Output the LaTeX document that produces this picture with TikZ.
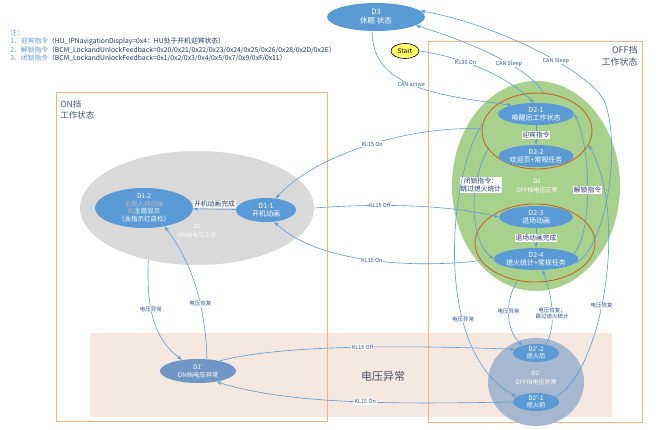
\documentclass[tikz,border=0pt]{standalone}
\usepackage{fontspec}
\setmainfont{Noto Sans CJK SC}[Ligatures=TeXOff]
\usetikzlibrary{shapes.geometric,arrows.meta}

\definecolor{stateb}{RGB}{91,155,213}
\definecolor{lineb}{RGB}{91,155,213}
\definecolor{labc}{RGB}{47,85,151}
\definecolor{darkt}{RGB}{31,56,100}
\definecolor{grayt}{RGB}{68,84,106}
\definecolor{boxo}{RGB}{244,177,131}
\definecolor{bandc}{RGB}{245,232,225}
\definecolor{greenc}{RGB}{169,209,142}
\definecolor{grayc}{RGB}{217,217,217}
\definecolor{brownc}{RGB}{196,100,30}
\definecolor{abnc}{RGB}{166,184,207}
\definecolor{abnb}{RGB}{112,150,196}
\definecolor{fadet}{RGB}{196,180,190}
\definecolor{startc}{RGB}{255,255,102}

\tikzset{every picture/.style={line width=0.75pt}}
\tikzset{
  stat/.style={ellipse, fill=stateb, text=white, inner sep=0pt, align=center,
    font=\fontsize{7}{8.2}\selectfont},
  zone/.style={ellipse, inner sep=0pt},
  conn/.style={draw=lineb, line width=0.6pt, -{Stealth[length=5pt,width=3.6pt]}},
  lab/.style={fill=white, inner sep=0.6pt, text=labc, align=center,
    font=\fontsize{5.5}{6.5}\selectfont},
  cmd/.style={fill=white, inner sep=0.8pt, text=darkt, align=center,
    font=\fontsize{6.8}{8}\selectfont},
  ztxt/.style={text=white, align=center, font=\fontsize{6}{9.5}\selectfont},
}

\begin{document}
\begin{tikzpicture}[x=1pt,y=1pt,yscale=-1]
\useasboundingbox (0,0) rectangle (662,430);

% Text Node: notes
\node[anchor=north west, align=left, inner sep=0pt, text=darkt,
  font=\fontsize{6.8}{8.6}\selectfont] (notes) at (10,29)
  {\textcolor{stateb}{注：}\\
   \textcolor{stateb}{1、迎宾指令}（HU\_IPNavigationDisplay=0x4：HU处于开机迎宾状态）\\
   \textcolor{stateb}{2、解锁指令}（BCM\_LockandUnlockFeedback=0x20/0x21/0x22/0x23/0x24/0x25/0x26/0x28/0x2D/0x2E）\\
   \textcolor{stateb}{3、闭锁指令}（BCM\_LockandUnlockFeedback=0x1/0x2/0x3/0x4/0x5/0x7/0x9/0xF/0x11）};

%Shape: Rectangle (voltage band)
\fill[bandc] (90,333) rectangle (612,417);
\node[text=grayt, font=\fontsize{11}{13}\selectfont] (abnlbl) at (383,376) {电压异常};

%Shape: Rectangle (ON / OFF)
\draw[boxo, line width=1pt] (56,93) rectangle (327,422);
\draw[boxo, line width=1pt] (428,42) rectangle (642,423);
\node[anchor=north west, align=left, inner sep=0pt, text=grayt,
  font=\fontsize{8.5}{11}\selectfont] (onlbl) at (60,100) {ON挡\\工作状态};
\node[anchor=north east, align=right, inner sep=0pt, text=grayt,
  font=\fontsize{9}{11.5}\selectfont] (offlbl) at (638,46) {OFF挡\\工作状态};

%Shape: Ellipse (zones)
\node[zone, fill=grayc, minimum width=234pt, minimum height=114pt] (d1) at (197,208) {};
\node[zone, fill=greenc, minimum width=168pt, minimum height=210pt] (d2) at (536,186) {};
\node[zone, fill=abnc, minimum width=96pt, minimum height=88pt] (d2p) at (536,382) {};
\node[zone, draw=brownc, line width=0.9pt, minimum width=110pt, minimum height=76pt] (grpa) at (537,131) {};
\node[zone, draw=brownc, line width=0.9pt, minimum width=120pt, minimum height=78pt] (grpb) at (535,243) {};

% Text Node
\node[ztxt] (d1txt) at (197,231) {D1\\ON挡电压正常};
\node[ztxt] (d2txt) at (537,186) {D2\\OFF挡电压正常};
\node[ztxt] (d2ptxt) at (536,378) {D2'\\OFF挡电压异常};

%Shape: Ellipse (states)
\node[stat, minimum width=98pt, minimum height=28pt, font=\fontsize{7.5}{9}\selectfont] (d3) at (376,17) {D3\\休眠 状态};
\node[ellipse, draw=black, fill=startc, line width=0.6pt, minimum width=28pt, minimum height=15pt,
  inner sep=0pt, font=\fontsize{6.5}{7}\selectfont] (start) at (405,51) {Start};
\node[stat, minimum width=98pt, minimum height=40pt, font=\fontsize{6.5}{7.4}\selectfont] (d12) at (144,208)
  {D1-2\\\textcolor{fadet}{主题入场动画}\\\textcolor{fadet}{和}主题显示\\（含指示灯自检）};
\node[stat, minimum width=60pt, minimum height=24pt] (d11) at (266,210) {D1-1\\开机动画};
\node[stat, fill=abnb, minimum width=76pt, minimum height=24pt, font=\fontsize{6.3}{8}\selectfont] (d1p) at (198,371) {D1'\\ON挡电压异常};
\node[stat, minimum width=76pt, minimum height=22pt] (d21) at (536,114) {D2-1\\唤醒后工作状态};
\node[stat, minimum width=74pt, minimum height=22pt] (d22) at (536,156) {D2-2\\欢迎页+常规任务};
\node[stat, minimum width=74pt, minimum height=22pt] (d23) at (536,217) {D2-3\\退场动画};
\node[stat, minimum width=76pt, minimum height=22pt] (d24) at (536,259) {D2-4\\熄火统计+常规任务};
\node[stat, minimum width=46pt, minimum height=18pt, inner sep=-1.5pt, font=\fontsize{6.3}{7.3}\selectfont] (d2p2) at (536,353) {D2'-2\\熄火后};
\node[stat, minimum width=46pt, minimum height=18pt, inner sep=-1.5pt, font=\fontsize{6.3}{7.3}\selectfont] (d2p1) at (536,402) {D2'-1\\熄火前};

%Straight Lines (inside zones)
\draw[conn] (d11) -- (d12) node[cmd, midway, above=1pt] {开机动画完成};
\draw[conn] (d21) -- (d22) node[cmd, midway] {迎宾指令};
\draw[conn] (d23) -- (d24) node[cmd, midway] {退场动画完成};
\draw[conn] (grpa.200) .. controls (468,185) and (470,240) .. (d24.west) node[cmd, pos=0.3, xshift=5pt] {闭锁指令：\\跳过熄火统计};
\draw[conn] (d24.8) .. controls (592,235) and (592,150) .. (d21.east) node[cmd, pos=0.5] {解锁指令};

%Curves (top)
\draw[conn] (d3.255) .. controls (372,85) and (430,95) .. (d21.160) node[lab, pos=0.5] {CAN active};
\draw[conn] (start.east) .. controls (450,55) and (500,70) .. (d21.100) node[lab, pos=0.42] {KL30 On};
\draw[conn] (grpa.80) .. controls (530,70) and (480,45) .. (d3.-12) node[lab, pos=0.42] {CAN Sleep};
\draw[conn] (d24.-5) .. controls (602,250) and (622,160) .. (606,105)
  .. controls (597,75) and (500,25) .. (d3.8) node[lab, pos=0.42] {CAN Sleep};

%Curves (ON <-> OFF)
\draw[conn] (grpa.178) .. controls (420,125) and (320,150) .. (d11.50) node[lab, pos=0.5] {KL15 On};
\draw[conn] (d1.east) .. controls (380,203) and (450,205) .. (d23.west) node[lab, pos=0.33] {KL15 Off};
\draw[conn] (grpb.198) .. controls (420,268) and (320,265) .. (d11.-55) node[lab, pos=0.5] {KL15 On};

%Curves (voltage)
\draw[conn] (d1.227) .. controls (146,310) and (155,340) .. (d1p.145) node[lab, pos=0.38] {电压异常};
\draw[conn] (d1p.53) .. controls (205,300) and (190,260) .. (d12.-42) node[lab, pos=0.35] {电压恢复};
\draw[conn] (grpa.172) .. controls (450,170) and (430,350) .. (d2p1.165) node[lab, pos=0.68] {电压异常};
\draw[conn] (grpb.245) .. controls (505,300) and (505,330) .. (d2p2.150) node[lab, pos=0.45] {电压异常};
\draw[conn] (d2p2.40) .. controls (557,325) and (552,295) .. (d24.300) node[lab, pos=0.45] {电压恢复；\\跳过熄火统计};
\draw[conn] (d2p1.15) .. controls (600,375) and (630,220) .. (grpa.-15) node[lab, pos=0.45] {电压恢复};
\draw[conn] (d1p.25) .. controls (280,345) and (400,345) .. (d2p2.170) node[lab, pos=0.55] {KL15 Off};
\draw[conn] (d2p1.west) .. controls (400,404) and (290,405) .. (d1p.-30) node[lab, pos=0.45] {KL15 On};

\end{tikzpicture}
\end{document}
